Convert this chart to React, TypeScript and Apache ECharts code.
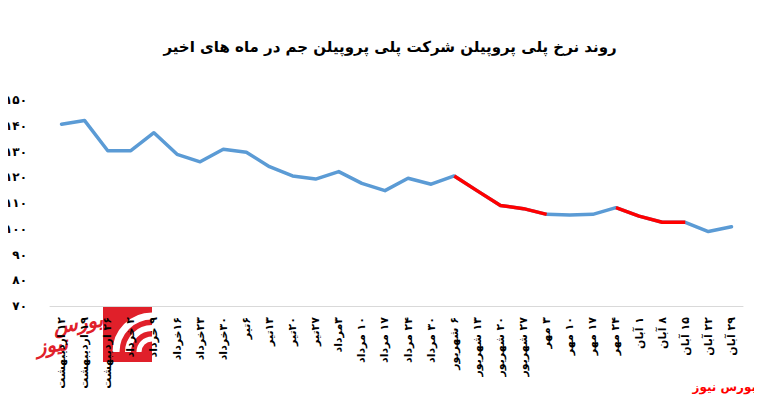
import React, { useEffect, useRef } from "react";
import * as echarts from "echarts";

const categories = [
  "۱۲ اردیبهشت", "۱۹ اردیبهشت", "۲۶ اردیبهشت", "۲ خرداد", "۹ خرداد",
  "۱۶خرداد", "۲۳خرداد", "۳۰خرداد", "۶تیر", "۱۳تیر", "۲۰تیر", "۲۷تیر",
  "۳مرداد", "۱۰ مرداد", "۱۷ مرداد", "۲۴ مرداد", "۳۰ مرداد",
  "۶ شهریور", "۱۳ شهریور", "۲۰ شهریور", "۲۷ شهریور",
  "۳ مهر", "۱۰ مهر", "۱۷ مهر", "۲۴ مهر",
  "۱ آبان", "۸ آبان", "۱۵ آبان", "۲۲ آبان", "۲۹ آبان",
];

const prices = [
  140.6, 142.0, 130.3, 130.3, 137.3, 128.9, 126.0, 130.9, 129.7, 124.1,
  120.5, 119.3, 122.2, 117.6, 114.8, 119.6, 117.3, 120.5, 114.7, 109.0,
  107.8, 105.6, 105.3, 105.6, 108.2, 104.9, 102.5, 102.5, 98.9, 100.8,
];

// index ranges (inclusive) drawn in red
const redRanges = [
  [17, 21],
  [24, 27],
];

const yMin = 70;
const yMax = 150;
const yStep = 10;

const title = "روند نرخ پلی پروپیلن شرکت پلی پروپیلن جم در ماه های اخیر";
const brand = "بورس نیوز";
const brandTop = "بورس";
const brandBottom = "نیوز";

const toPersian = (s: string | number) =>
  String(s).replace(/[0-9]/g, (d) => "۰۱۲۳۴۵۶۷۸۹"[Number(d)]);

const FONT = "DejaVu Sans";

export default function App() {
  const ref = useRef<HTMLDivElement>(null);
  useEffect(() => {
    if (!ref.current) return;
    const chart = echarts.init(ref.current, null, { renderer: "svg" });
    const redData = prices.map((v, i) =>
      redRanges.some(([a, b]) => i >= a && i <= b) ? v : null
    );
    chart.setOption({
      animation: false,
      backgroundColor: "#ffffff",
      grid: { left: 50, right: 19, top: 100, bottom: 91, containLabel: false },
      xAxis: {
        type: "category",
        data: categories,
        boundaryGap: true,
        axisLine: { show: true, lineStyle: { color: "#d9d9d9", width: 1 } },
        axisTick: { show: false },
        axisLabel: {
          interval: 0,
          rotate: 90,
          margin: 11,
          color: "#000",
          fontFamily: FONT,
          fontSize: 11,
          fontWeight: "bold",
          formatter: (v: string) => "\u200F" + v,
        },
        splitLine: { show: false },
      },
      yAxis: {
        type: "value",
        min: yMin,
        max: yMax,
        interval: yStep,
        axisLine: { show: false },
        axisTick: { show: false },
        splitLine: { show: false },
        axisLabel: {
          color: "#000",
          fontFamily: FONT,
          fontSize: 12,
          fontWeight: "bold",
          margin: 23,
          formatter: (v: number) => toPersian(v),
        },
      },
      series: [
        {
          type: "line",
          data: prices,
          symbol: "none",
          lineStyle: { color: "#5b9bd5", width: 3.5, cap: "round", join: "round" },
          z: 2,
        },
        {
          type: "line",
          data: redData,
          symbol: "none",
          connectNulls: false,
          lineStyle: { color: "#ff0000", width: 3.5, join: "round" },
          z: 3,
        },
      ],
      graphic: {
        elements: [
          {
            type: "text",
            x: 390,
            y: 47,
            style: {
              text: title,
              fill: "#000",
              font: `bold 15px "${FONT}"`,
              textAlign: "center",
              textVerticalAlign: "middle",
            },
          },
          {
            type: "text",
            x: 756,
            y: 387,
            style: {
              text: brand,
              fill: "#ff0000",
              font: `bold 12px "${FONT}"`,
              textAlign: "right",
              textVerticalAlign: "middle",
            },
          },
          {
            type: "group",
            z: -5,
            children: [
              {
                type: "rect",
                shape: { x: 103, y: 307, width: 49, height: 55 },
                style: { fill: "#e0202a" },
                z: -5,
              },
              {
                type: "arc",
                shape: { cx: 152, cy: 352, r: 36, startAngle: Math.PI, endAngle: Math.PI * 1.5 },
                style: { stroke: "#ffffff", lineWidth: 7, fill: null },
                z: -4,
              },
              {
                type: "arc",
                shape: { cx: 152, cy: 352, r: 24, startAngle: Math.PI, endAngle: Math.PI * 1.5 },
                style: { stroke: "#ffffff", lineWidth: 6, fill: null },
                z: -4,
              },
              {
                type: "arc",
                shape: { cx: 152, cy: 352, r: 13, startAngle: Math.PI, endAngle: Math.PI * 1.5 },
                style: { stroke: "#ffffff", lineWidth: 5, fill: null },
                z: -4,
              },
              {
                type: "text",
                x: 78,
                y: 323,
                rotation: 0.15,
                style: {
                  text: brandTop,
                  fill: "#e0202a",
                  font: `italic bold 20px "${FONT}"`,
                  textAlign: "center",
                  textVerticalAlign: "middle",
                },
                z: -4,
              },
              {
                type: "text",
                x: 52,
                y: 345,
                rotation: 0.15,
                style: {
                  text: brandBottom,
                  fill: "#e0202a",
                  font: `italic bold 20px "${FONT}"`,
                  textAlign: "center",
                  textVerticalAlign: "middle",
                },
                z: -4,
              },
            ],
          },
        ],
      },
    });
    return () => chart.dispose();
  }, []);
  return <div ref={ref} style={{ width: 762, height: 397, marginLeft: -8, marginTop: -8 }} />;
}
